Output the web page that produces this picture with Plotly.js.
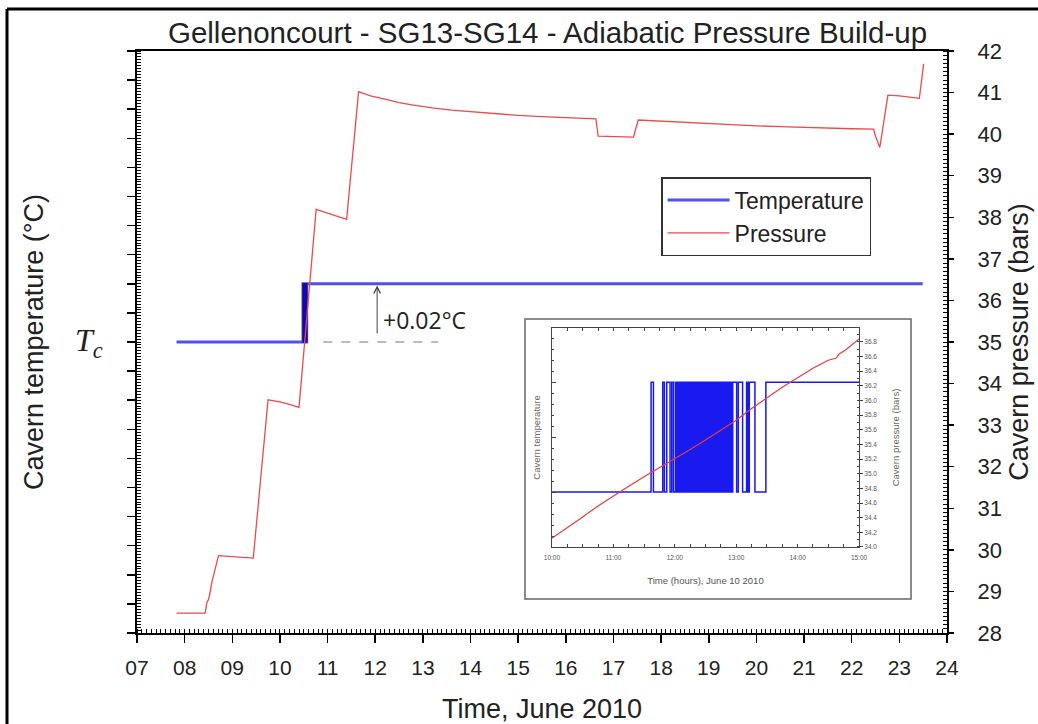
<!DOCTYPE html>
<html>
<head>
<meta charset="utf-8">
<script src="https://cdn.plot.ly/plotly-3.0.1.min.js"></script>
<style>
  html, body { margin: 0; padding: 0; background: #ffffff; }
  #chart { width: 1038px; height: 724px; }
</style>
</head>
<body>
<div id="chart"></div>
<script>
// ---------------- DATA ----------------
// Main chart: time axis in days of June 2010
const xTickVals = [7, 8, 9, 10, 11, 12, 13, 14, 15, 16, 17, 18, 19, 20, 21, 22, 23, 24];
const xTickText = ["07", "08", "09", "10", "11", "12", "13", "14", "15", "16", "17", "18", "19", "20", "21", "22", "23", "24"];

// Cavern pressure (bars) vs. day of June 2010
const pressureDay = [7.83, 8.43, 8.47, 8.50, 8.53, 8.57, 8.71, 9.00, 9.30, 9.44, 9.75, 10.00, 10.20, 10.40,
  10.76, 11.00, 11.20, 11.40, 11.65, 11.90, 12.20, 12.50, 12.80, 13.20, 13.60, 14.00, 14.50, 15.00, 15.50,
  16.00, 16.63, 16.68, 17.00, 17.42, 17.52, 18.00, 18.50, 19.00, 19.66, 20.00, 20.50, 21.00, 21.50, 22.00,
  22.46, 22.50, 22.59, 22.76, 23.00, 23.42, 23.51];
const pressureBar = [28.48, 28.48, 28.75, 28.80, 28.95, 29.22, 29.86, 29.84, 29.82, 29.80, 33.61, 33.56, 33.50, 33.43,
  38.19, 38.10, 38.02, 37.95, 41.02, 40.92, 40.84, 40.76, 40.70, 40.63, 40.58, 40.54, 40.49, 40.45, 40.42,
  40.40, 40.37, 39.95, 39.94, 39.93, 40.34, 40.31, 40.28, 40.26, 40.22, 40.20, 40.18, 40.16, 40.14, 40.13,
  40.12, 39.95, 39.68, 40.94, 40.92, 40.86, 41.69];

// Cavern temperature relative to Tc (deg C): two levels of the sensor
const tempLow = 0.00;   // Tc
const tempHigh = 0.02;  // Tc + 0.02 degC
const tempStartDay = 7.83;
const tempEndDay = 23.49;

// Sensor switching times on June 10 2010 (hours) between the two temperature levels
const toggleHours = [11.614, 11.652, 11.804, 11.831, 11.869, 11.923, 11.950, 11.977, 12.010, 12.031, 12.053,
  12.075, 12.090, 12.104, 12.121, 12.135, 12.151, 12.166, 12.180, 12.197, 12.211, 12.226, 12.243, 12.257,
  12.272, 12.288, 12.302, 12.318, 12.333, 12.349, 12.363, 12.379, 12.394, 12.410, 12.424, 12.441, 12.455,
  12.470, 12.486, 12.501, 12.516, 12.531, 12.547, 12.562, 12.577, 12.593, 12.608, 12.623, 12.638, 12.654,
  12.669, 12.685, 12.699, 12.715, 12.730, 12.746, 12.761, 12.776, 12.792, 12.806, 12.822, 12.837, 12.853,
  12.868, 12.883, 12.899, 12.914, 12.929, 12.944,
  13.007, 13.034, 13.104, 13.169, 13.191, 13.213, 13.305, 13.483];
const insetDay = 10; // June 10

// Inset: pressure on June 10 2010 (hours, bars)
const insetHour = [10.00, 10.25, 10.50, 10.75, 11.00, 11.25, 11.50, 11.75, 12.00, 12.25, 12.50, 12.75,
  13.00, 13.25, 13.50, 13.75, 14.00, 14.25, 14.50, 14.58, 14.63, 14.68, 14.78, 15.00];
const insetPressure = [34.12, 34.26, 34.41, 34.56, 34.70, 34.83, 34.96, 35.08, 35.21, 35.33, 35.46, 35.60,
  35.73, 35.89, 36.04, 36.18, 36.31, 36.44, 36.55, 36.57, 36.58, 36.64, 36.69, 36.84];
const insetTickVals = [10, 11, 12, 13, 14, 15];
const insetTickText = ["10:00", "11:00", "12:00", "13:00", "14:00", "15:00"];
const insetPTickVals = [34.0, 34.2, 34.4, 34.6, 34.8, 35.0, 35.2, 35.4, 35.6, 35.8, 36.0, 36.2, 36.4, 36.6, 36.8];
const insetPTickText = ["34.0", "34.2", "34.4", "34.6", "34.8", "35.0", "35.2", "35.4", "35.6", "35.8", "36.0", "36.2", "36.4", "36.6", "36.8"];

// ---------------- BUILD SERIES ----------------
// step series from toggles (starts at low level, alternates at each toggle)
function buildSteps(startX, endX, toggles) {
  const xs = [startX], ys = [tempLow];
  let level = tempLow;
  toggles.forEach(t => {
    level = (level === tempLow) ? tempHigh : tempLow;
    xs.push(t); ys.push(level);
  });
  xs.push(endX); ys.push(level);
  return {xs, ys};
}
const toggleDays = toggleHours.map(h => insetDay + h / 24);
const mainSteps = buildSteps(tempStartDay, tempEndDay, toggleDays);
const bandSteps = buildSteps(toggleDays[0], toggleDays[toggleDays.length - 1], toggleDays.slice(1));
const insetSteps = buildSteps(insetTickVals[0], insetTickVals[insetTickVals.length - 1], toggleHours);

const FONT = "Liberation Sans, Arial, sans-serif";
const TXT = "#222222";

const traces = [
  {
    x: mainSteps.xs, y: mainSteps.ys, xaxis: 'x', yaxis: 'y',
    type: 'scatter', mode: 'lines', name: 'Temperature',
    line: {color: 'rgb(80,80,235)', width: 3, shape: 'hv'}
  },
  {
    x: bandSteps.xs, y: bandSteps.ys, xaxis: 'x', yaxis: 'y',
    type: 'scatter', mode: 'lines', showlegend: false, hoverinfo: 'skip',
    line: {color: 'rgb(20,10,160)', width: 1.6, shape: 'hv'}
  },
  {
    x: pressureDay, y: pressureBar, xaxis: 'x', yaxis: 'y2',
    type: 'scatter', mode: 'lines', name: 'Pressure',
    line: {color: 'rgb(235,75,75)', width: 1.3}
  },
  {
    x: insetSteps.xs, y: insetSteps.ys, xaxis: 'x2', yaxis: 'y3',
    type: 'scatter', mode: 'lines', showlegend: false,
    line: {color: 'rgb(25,25,240)', width: 1.5, shape: 'hv'}
  },
  {
    x: insetHour, y: insetPressure, xaxis: 'x2', yaxis: 'y4',
    type: 'scatter', mode: 'lines', showlegend: false,
    line: {color: 'rgb(230,60,60)', width: 1.2}
  }
];

// plot area in pixels: left 137, right 947, top 51, bottom 633
const layout = {
  width: 1038, height: 724,
  margin: {l: 137, r: 91, t: 51, b: 91},
  paper_bgcolor: '#ffffff', plot_bgcolor: 'rgba(0,0,0,0)',
  font: {family: FONT, color: TXT},
  showlegend: true,
  title: {
    text: 'Gellenoncourt - SG13-SG14 - Adiabatic Pressure Build-up',
    font: {family: FONT, size: 29.5, color: TXT},
    x: 0.5275, xref: 'container', xanchor: 'center',
    y: 0.955, yref: 'container', yanchor: 'middle'
  },
  legend: {
    x: 0.647, y: 0.7835, xanchor: 'left', yanchor: 'top',
    bgcolor: '#ffffff', bordercolor: '#333333', borderwidth: 1.5,
    font: {family: FONT, size: 23, color: TXT},
    itemwidth: 62,
    tracegroupgap: 0
  },
  xaxis: {
    range: [7, 24], tickvals: xTickVals, ticktext: xTickText,
    ticks: 'outside', ticklen: 8, tickwidth: 1.5, tickcolor: '#000',
    showline: true, linewidth: 2, linecolor: '#000', mirror: true,
    showgrid: false, zeroline: false,
    minor: {dtick: 0.1, ticks: 'inside', ticklen: 4, tickwidth: 1, tickcolor: '#000', showgrid: false},
    tickfont: {family: FONT, size: 21, color: TXT},
    ticklabelstandoff: 7,
    title: {text: 'Time, June 2010', font: {family: FONT, size: 27, color: TXT}, standoff: 21},
    automargin: false
  },
  xaxis3: {
    overlaying: 'x', side: 'top', anchor: 'y', range: [7, 24],
    tickvals: xTickVals, ticks: 'inside', ticklen: 4, tickwidth: 1, tickcolor: '#000',
    minor: {dtick: 0.1, ticks: 'inside', ticklen: 4, tickwidth: 1, tickcolor: '#000', showgrid: false},
    showticklabels: false, showline: false, showgrid: false, zeroline: false
  },
  yaxis: {
    range: [-0.10, 0.10], dtick: 0.01, tick0: 0,
    ticks: 'outside', ticklen: 8, tickwidth: 1.5, tickcolor: '#000',
    showticklabels: false,
    showline: true, linewidth: 2, linecolor: '#000',
    showgrid: false, zeroline: false,
    minor: {dtick: 0.001, ticks: 'inside', ticklen: 4, tickwidth: 1, tickcolor: '#000', showgrid: false},
    title: {text: 'Cavern temperature (°C)', font: {family: FONT, size: 27, color: TXT}, standoff: 76},
    automargin: false
  },
  yaxis2: {
    overlaying: 'y', side: 'right', anchor: 'x', range: [28, 42], dtick: 1,
    ticks: 'outside', ticklen: 5, tickwidth: 1.5, tickcolor: '#000',
    showline: true, linewidth: 2, linecolor: '#000',
    showgrid: false, zeroline: false,
    minor: {dtick: 0.1, ticks: 'inside', ticklen: 4, tickwidth: 1, tickcolor: '#000', showgrid: false},
    tickfont: {family: FONT, size: 22, color: TXT},
    ticklabelstandoff: 19,
    title: {text: 'Cavern pressure (bars)', font: {family: FONT, size: 27, color: TXT}, standoff: 8},
    automargin: false
  },
  // inset
  xaxis2: {
    domain: [0.5123, 0.8914], anchor: 'y3', range: [10, 15],
    tickvals: insetTickVals, ticktext: insetTickText,
    ticks: 'inside', ticklen: 3, tickwidth: 1, tickcolor: '#444',
    showline: true, linewidth: 1, linecolor: '#444', mirror: 'allticks',
    showgrid: false, zeroline: false,
    minor: {dtick: 0.25, ticks: 'inside', ticklen: 2, tickwidth: 1, tickcolor: '#444', showgrid: false},
    tickfont: {family: FONT, size: 6.5, color: '#555'},
    ticklabelstandoff: 4,
    title: {text: 'Time (hours), June 10 2010', font: {family: FONT, size: 9.5, color: '#555'}, standoff: 17},
    automargin: false
  },
  yaxis3: {
    domain: [0.1478, 0.5241], anchor: 'x2', range: [-0.01, 0.0299], dtick: 0.01, tick0: 0,
    ticks: 'inside', ticklen: 4, tickwidth: 1, tickcolor: '#444',
    showticklabels: false,
    showline: true, linewidth: 1, linecolor: '#444',
    showgrid: false, zeroline: false,
    minor: {dtick: 0.002, ticks: 'inside', ticklen: 2, tickwidth: 1, tickcolor: '#444', showgrid: false},
    title: {text: 'Cavern temperature', font: {family: FONT, size: 9.5, color: '#666'}, standoff: 8},
    automargin: false
  },
  yaxis4: {
    overlaying: 'y3', side: 'right', anchor: 'x2', range: [34, 36.99],
    tickvals: insetPTickVals, ticktext: insetPTickText,
    ticks: 'outside', ticklen: 3, tickwidth: 1, tickcolor: '#444',
    showline: true, linewidth: 1, linecolor: '#444',
    showgrid: false, zeroline: false,
    minor: {dtick: 0.1, ticks: 'inside', ticklen: 2, tickwidth: 1, tickcolor: '#444', showgrid: false},
    tickfont: {family: FONT, size: 6.5, color: '#555'},
    title: {text: 'Cavern pressure (bars)', font: {family: FONT, size: 9.5, color: '#666'}, standoff: 15},
    automargin: false
  },
  shapes: [
    // outer frame (left and top edges of the figure border)
    {type: 'line', xref: 'paper', yref: 'paper', x0: -0.1605, x1: -0.1605, y0: -0.2, y1: 1.0722,
     line: {color: '#000', width: 3}},
    {type: 'line', xref: 'paper', yref: 'paper', x0: -0.1605, x1: 1.2, y0: 1.0722, y1: 1.0722,
     line: {color: '#000', width: 3}},
    // inset frame
    {type: 'rect', xref: 'paper', yref: 'paper', x0: 0.479, x1: 0.9556, y0: 0.0584, y1: 0.5395,
     line: {color: '#666', width: 1.5}, fillcolor: 'rgba(255,255,255,0)', layer: 'below'},
    // dashed reference line at Tc
    {type: 'line', xref: 'x', yref: 'y', x0: 10.91, x1: 13.32, y0: tempLow, y1: tempLow,
     line: {color: '#777', width: 1, dash: 'dash'}}
  ],
  annotations: [
    {xref: 'x', yref: 'y', x: 12.04, y: tempHigh - 0.0006, axref: 'x', ayref: 'y', ax: 12.04, ay: tempLow,
     showarrow: true, arrowhead: 5, arrowsize: 1.3, arrowwidth: 1, arrowcolor: '#444', text: ' '},
    {xref: 'x', yref: 'y', x: 12.12, y: 0.0076, xanchor: 'left', yanchor: 'middle', showarrow: false,
     text: '+0.02°C', font: {family: 'Open Sans, Lato, sans-serif', size: 23, color: TXT}},
    {xref: 'paper', yref: 'y', x: -0.059, y: tempLow, xanchor: 'center', yanchor: 'middle', showarrow: false,
     text: '<i>T<sub>c</sub></i>', font: {family: 'Liberation Serif, Times New Roman, serif', size: 32, color: TXT}}
  ]
};

Plotly.newPlot('chart', traces, layout, {displayModeBar: false, staticPlot: true});
</script>
</body>
</html>
